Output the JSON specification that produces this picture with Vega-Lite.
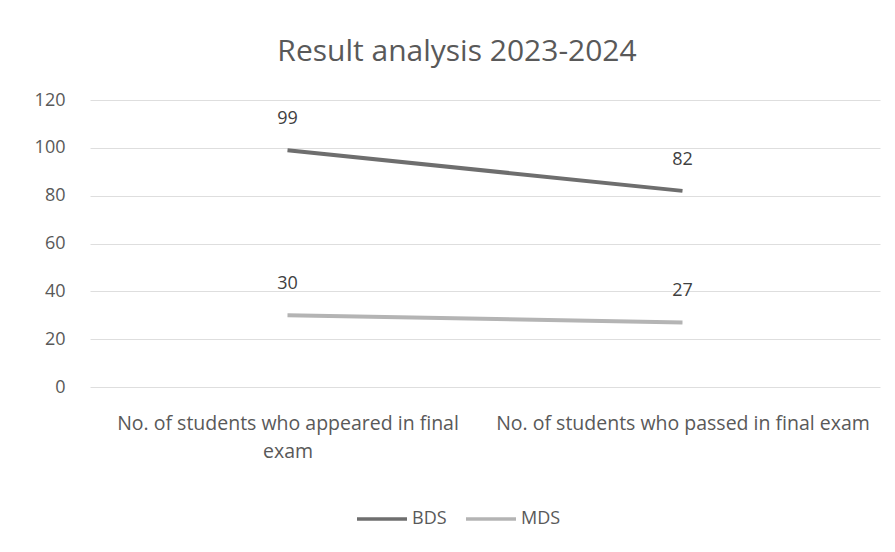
{
  "$schema": "https://vega.github.io/schema/vega-lite/v6.json",
  "autosize": "none",
  "width": 790,
  "height": 287,
  "padding": {"left": 90, "top": 100, "right": 15, "bottom": 165},
  "background": "white",
  "config": {
    "font": "Open Sans",
    "view": {"stroke": null}
  },
  "title": {
    "text": "Result analysis 2023-2024",
    "fontSize": 30,
    "fontWeight": "normal",
    "color": "#595959",
    "anchor": "middle",
    "dx": -28,
    "offset": 24
  },
  "data": {
    "values": [
      {"category": "No. of students who appeared in final exam", "series": "BDS", "value": 99},
      {"category": "No. of students who passed in final exam", "series": "BDS", "value": 82},
      {"category": "No. of students who appeared in final exam", "series": "MDS", "value": 30},
      {"category": "No. of students who passed in final exam", "series": "MDS", "value": 27}
    ]
  },
  "encoding": {
    "x": {
      "field": "category",
      "type": "nominal",
      "sort": null,
      "scale": {"type": "point", "padding": 0.5},
      "axis": {
        "title": null,
        "labelAngle": 0,
        "domain": false,
        "ticks": false,
        "labelFontSize": 19.5,
        "labelColor": "#595959",
        "labelPadding": 27,
        "labelLineHeight": 28,
        "labelLimit": 0,
        "labelExpr": "datum.value == 'No. of students who appeared in final exam' ? ['No. of students who appeared in final', 'exam'] : datum.value"
      }
    },
    "y": {
      "field": "value",
      "type": "quantitative",
      "scale": {"domain": [0, 120]},
      "axis": {
        "title": null,
        "values": [0, 20, 40, 60, 80, 100, 120],
        "domain": false,
        "ticks": false,
        "labelFontSize": 18,
        "labelColor": "#595959",
        "labelPadding": 25,
        "gridColor": "#dedede",
        "gridWidth": 1
      }
    },
    "color": {
      "field": "series",
      "type": "nominal",
      "scale": {"domain": ["BDS", "MDS"], "range": ["#6e6e6e", "#b4b4b4"]},
      "legend": {
        "title": null,
        "orient": "none",
        "direction": "horizontal",
        "legendX": 265,
        "legendY": 392,
        "symbolType": "stroke",
        "symbolStrokeWidth": 3.5,
        "symbolSize": 2500,
        "labelFontSize": 18,
        "labelColor": "#595959",
        "columnPadding": 12,
        "labelOffset": 3,
        "labelLimit": 0
      }
    }
  },
  "layer": [
    {
      "mark": {"type": "line", "strokeWidth": 4}
    },
    {
      "mark": {"type": "text", "dy": -31, "fontSize": 18, "baseline": "middle"},
      "encoding": {
        "text": {"field": "value", "type": "quantitative"},
        "color": {"value": "#404040"}
      }
    }
  ]
}
